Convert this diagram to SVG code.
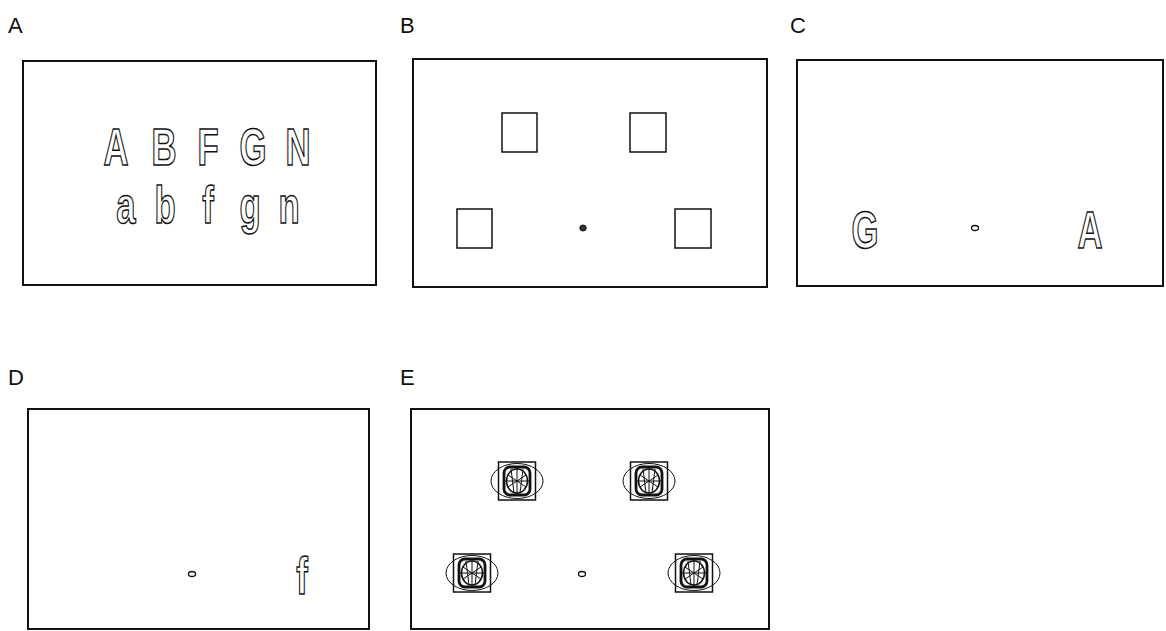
<svg xmlns="http://www.w3.org/2000/svg" width="1166" height="631" viewBox="0 0 1166 631">
<style>
.lbl{font-family:"Liberation Sans",Arial,sans-serif;font-size:22px;fill:#111}
.frame{fill:none;stroke:#111;stroke-width:2}
.glyph{font-family:"Liberation Sans",Arial,sans-serif;font-size:51px;font-weight:bold;fill:#fff;stroke:#111;stroke-width:1.5;text-anchor:middle}
.sq{fill:none;stroke:#111;stroke-width:1.5}
.dot{fill:none;stroke:#111;stroke-width:1.3}
</style>
<defs>
<g id="mark">
<rect x="-18.5" y="-19" width="37" height="38" fill="none" stroke="#111" stroke-width="1.5"/>
<ellipse cx="0" cy="0" rx="26" ry="17.5" fill="none" stroke="#111" stroke-width="1"/>
<rect x="-13" y="-14" width="26" height="28" rx="6" fill="none" stroke="#111" stroke-width="2.8"/>
<ellipse cx="0" cy="0" rx="10.5" ry="12" fill="none" stroke="#111" stroke-width="1.5"/>
<path d="M0 -14V14M-13 0H13M-6 -12L-3 12M6 -12L3 12M-9 -6L9 6M-9 6L9 -6" fill="none" stroke="#111" stroke-width="1"/>
</g>
</defs>
<g id="panelA">
<text class="lbl" x="8" y="33">A</text>
<rect class="frame" x="23" y="61" width="353" height="224"/>
<g transform="translate(116,165) scale(0.68,1)"><text class="glyph" x="0" y="0">A</text></g>
<g transform="translate(164,165) scale(0.68,1)"><text class="glyph" x="0" y="0">B</text></g>
<g transform="translate(208,165) scale(0.68,1)"><text class="glyph" x="0" y="0">F</text></g>
<g transform="translate(253,165) scale(0.68,1)"><text class="glyph" x="0" y="0">G</text></g>
<g transform="translate(298,165) scale(0.68,1)"><text class="glyph" x="0" y="0">N</text></g>
<g transform="translate(126,223) scale(0.68,1)"><text class="glyph" x="0" y="0">a</text></g>
<g transform="translate(165,223) scale(0.68,1)"><text class="glyph" x="0" y="0">b</text></g>
<g transform="translate(208,223) scale(0.68,1)"><text class="glyph" x="0" y="0">f</text></g>
<g transform="translate(250,223) scale(0.68,1)"><text class="glyph" x="0" y="0">g</text></g>
<g transform="translate(289,223) scale(0.68,1)"><text class="glyph" x="0" y="0">n</text></g>
</g>
<g id="panelB">
<text class="lbl" x="400" y="33">B</text>
<rect class="frame" x="413" y="59" width="354" height="228"/>
<rect class="sq" x="502" y="113" width="35" height="39"/>
<rect class="sq" x="630" y="113" width="36" height="39"/>
<rect class="sq" x="457" y="209" width="35" height="39"/>
<rect class="sq" x="675" y="209" width="36" height="39"/>
<ellipse cx="583" cy="228" rx="3.2" ry="3" fill="#333" stroke="#111" stroke-width="1"/>
</g>
<g id="panelC">
<text class="lbl" x="790" y="33">C</text>
<rect class="frame" x="797" y="60" width="366" height="226"/>
<g transform="translate(865,248) scale(0.68,1)"><text class="glyph" x="0" y="0">G</text></g>
<g transform="translate(1090,248) scale(0.68,1)"><text class="glyph" x="0" y="0">A</text></g>
<ellipse class="dot" cx="975" cy="228" rx="3.5" ry="2.5"/>
</g>
<g id="panelD">
<text class="lbl" x="8" y="385">D</text>
<rect class="frame" x="28" y="409" width="341" height="220"/>
<ellipse class="dot" cx="192" cy="574" rx="3.5" ry="2.5"/>
<g transform="translate(302,594) scale(0.68,1)"><text class="glyph" x="0" y="0">f</text></g>
</g>
<g id="panelE">
<text class="lbl" x="400" y="385">E</text>
<rect class="frame" x="411" y="409" width="358" height="220"/>
<use href="#mark" x="517" y="481"/>
<use href="#mark" x="649" y="481"/>
<use href="#mark" x="472" y="573"/>
<use href="#mark" x="694" y="573"/>
<ellipse class="dot" cx="582" cy="574" rx="3.5" ry="2.5"/>
</g>
<g id="connectors"></g>
</svg>
